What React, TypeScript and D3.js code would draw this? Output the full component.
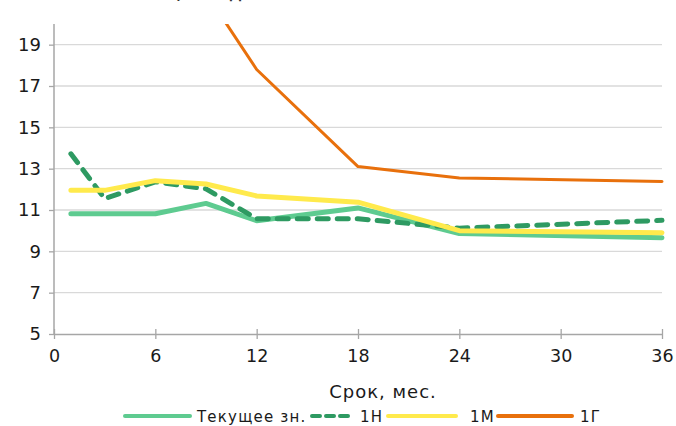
import * as d3 from 'd3';
import { useEffect, useRef } from 'react';

// term in months
const months = [1, 3, 6, 9, 12, 18, 24, 36];
const currentVals = [10.82, 10.82, 10.82, 11.32, 10.48, 11.1, 9.86, 9.66];
const h1Vals = [13.72, 11.55, 12.36, 12.02, 10.58, 10.58, 10.12, 10.5];
const m1Vals = [11.95, 11.95, 12.42, 12.26, 11.68, 11.38, 10.0, 9.9];
const g1Vals = [23.4, 22.9, 22.3, 21.5, 17.8, 13.1, 12.55, 12.38];

const seriesNames = ['Текущее зн.', '1Н', '1М', '1Г'];
const xTicks = [0, 6, 12, 18, 24, 30, 36];
const yTicks = [5, 7, 9, 11, 13, 15, 17, 19];

const FONT = '"DejaVu Sans", Verdana, sans-serif';

export default function App() {
  const ref = useRef<SVGSVGElement>(null);

  useEffect(() => {
    const width = 676;
    const height = 426;
    const svg = d3.select(ref.current);
    svg.selectAll('*').remove();
    svg.attr('width', width).attr('height', height);

    const left = 54, right = 662, top = 24, bottom = 334;

    const x = d3.scaleLinear().domain([0, 36]).range([left, right]);
    const y = d3.scaleLinear().domain([5, 20]).range([bottom, top]);

    // title sits above the visible area, only its descenders peek in
    svg.append('text')
      .attr('x', 66).attr('y', -1)
      .attr('font-family', FONT).attr('font-weight', 'bold')
      .attr('font-size', 16).attr('fill', '#333')
      .text('Ставки ОФЗ, % год.');

    svg.append('defs').append('clipPath').attr('id', 'plot-clip')
      .append('rect')
      .attr('x', left - 5).attr('y', top)
      .attr('width', right - left + 10).attr('height', bottom - top + 5);

    // gridlines
    svg.append('g').selectAll('line')
      .data(yTicks.filter(d => d !== 5))
      .enter().append('line')
      .attr('x1', left).attr('x2', right)
      .attr('y1', d => y(d)).attr('y2', d => y(d))
      .attr('stroke', '#d9d9d9').attr('stroke-width', 1.3);

    // y axis
    const yAxis = svg.append('g')
      .attr('transform', `translate(${left},0)`)
      .call(d3.axisLeft(y).tickValues(yTicks).tickSize(5).tickPadding(8).tickFormat(d3.format('d')));
    yAxis.select('.domain').attr('d', `M-0,${top}V${bottom}`);

    // x axis
    const xAxis = svg.append('g')
      .attr('transform', `translate(0,${bottom})`)
      .call(d3.axisBottom(x).tickValues(xTicks).tickSizeInner(5).tickSizeOuter(0).tickPadding(11));
    xAxis.selectAll('.tick line').attr('y1', -5).attr('y2', 5);

    [yAxis, xAxis].forEach(a => {
      a.select('.domain').attr('stroke', '#a6a6a6').attr('stroke-width', 1.5);
      a.selectAll('.tick line').attr('stroke', '#a6a6a6').attr('stroke-width', 1.3);
      a.selectAll('text')
        .attr('font-family', FONT).attr('font-size', 17.5).attr('fill', '#1a1a1a');
    });
    yAxis.selectAll('text').attr('font-size', 18);
    xAxis.selectAll('text').attr('dy', '0.71em');

    // axis title
    svg.append('text')
      .attr('x', 383).attr('y', 398)
      .attr('text-anchor', 'middle')
      .attr('font-family', FONT).attr('font-size', 18).attr('fill', '#1a1a1a')
      .attr('letter-spacing', 1)
      .text('Срок, мес.');

    const series = [
      { name: seriesNames[0], values: currentVals, color: '#5ecb90', width: 5, dash: null as string | null },
      { name: seriesNames[1], values: h1Vals, color: '#2e9a62', width: 5, dash: '11 9' },
      { name: seriesNames[2], values: m1Vals, color: '#ffea4c', width: 5, dash: null },
      { name: seriesNames[3], values: g1Vals, color: '#e8700c', width: 3, dash: null },
    ];

    const line = d3.line<number>()
      .x((_, i) => x(months[i]))
      .y(d => y(d));

    const plot = svg.append('g').attr('clip-path', 'url(#plot-clip)');
    series.forEach(s => {
      plot.append('path')
        .attr('d', line(s.values))
        .attr('fill', 'none')
        .attr('stroke', s.color)
        .attr('stroke-width', s.width)
        .attr('stroke-linejoin', 'round')
        .attr('stroke-linecap', 'round')
        .attr('stroke-dasharray', s.dash);
    });

    // legend
    const legendItems = [
      { x1: 125, x2: 190, tx: 197 },
      { x1: 312, x2: 354, tx: 360 },
      { x1: 388, x2: 456, tx: 470 },
      { x1: 498, x2: 572, tx: 580 },
    ];
    const legendY = 416;
    const lg = svg.append('g');
    series.forEach((s, i) => {
      const it = legendItems[i];
      lg.append('line')
        .attr('x1', it.x1).attr('x2', it.x2)
        .attr('y1', legendY).attr('y2', legendY)
        .attr('stroke', s.color)
        .attr('stroke-width', 4)
        .attr('stroke-linecap', 'round')
        .attr('stroke-dasharray', s.dash ? '8 6' : null);
      lg.append('text')
        .attr('x', it.tx).attr('y', legendY + 6)
        .attr('font-family', FONT).attr('font-size', 15).attr('fill', '#1a1a1a')
        .attr('letter-spacing', 1.2)
        .text(s.name);
    });

    return () => {
      svg.selectAll('*').remove();
    };
  }, []);

  return (
    <svg ref={ref} style={{ position: 'absolute', left: 0, top: 0, background: '#fff' }}></svg>
  );
}
